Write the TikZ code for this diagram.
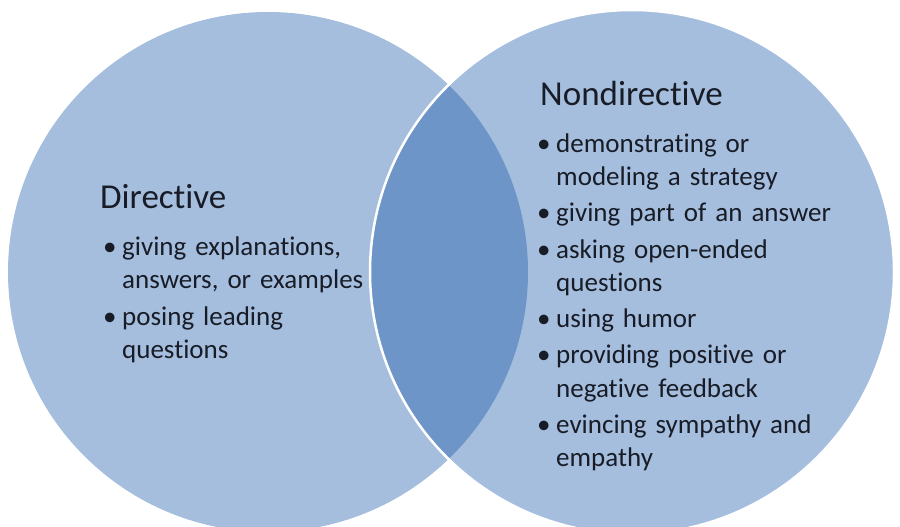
\documentclass[tikz,border=0pt]{standalone}
\usepackage{fontspec}
\setmainfont{Carlito}[Ligatures=NoCommon]
\definecolor{setfill}{RGB}{165,190,222}
\definecolor{lensfill}{RGB}{110,149,200}
\definecolor{inktext}{RGB}{24,28,38}
\newcommand{\bul}{\makebox[19pt][l]{\textbullet}}
\newcommand{\cont}{\hspace*{19pt}}
\begin{document}
\begin{tikzpicture}
[x=1pt,y=-1pt,
venn/.style={fill=setfill},
head/.style={font=\fontsize{35}{42}\selectfont,text=inktext,inner sep=0pt,anchor=base west},
items/.style={font=\fontsize{27}{33}\selectfont,text=inktext,inner sep=0pt,anchor=base west,text width=340pt,align=left}]
\useasboundingbox (0,0) rectangle (900,527);
\coordinate (lc) at (268,272);
\coordinate (rc) at (632,272);
% the two sets
\fill[venn] (lc) circle[radius=260];
\fill[venn] (rc) circle[radius=262];
\begin{scope}
\clip (lc) circle[radius=260];
\fill[lensfill] (rc) circle[radius=262];
\end{scope}
\draw[white,line width=2.5pt] (rc) circle[radius=262];
% left set
\node[head] (dirhead) at (100,208) {Directive};
\node[items] (diritems) at (103,255) {\bul giving explanations,\\
\cont answers, or examples\\[4pt]
\bul posing leading\\
\cont questions};
% right set
\node[head] (ndirhead) at (540,105) {Nondirective};
\node[items] (ndiritems) at (537,152) {\bul demonstrating or\\
\cont modeling a strategy\\[3.5pt]
\bul giving part of an answer\\[3.5pt]
\bul asking open-ended\\
\cont questions\\[3.5pt]
\bul using humor\\[3.5pt]
\bul providing positive or\\
\cont negative feedback\\[3.5pt]
\bul evincing sympathy and\\
\cont empathy};
\end{tikzpicture}
\end{document}
